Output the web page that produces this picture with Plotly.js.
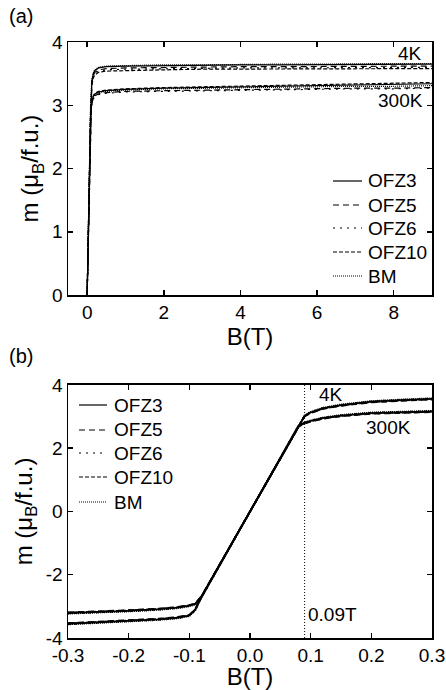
<!DOCTYPE html>
<html>
<head>
<meta charset="utf-8">
<script src="https://cdn.plot.ly/plotly-3.0.1.min.js"></script>
<style>html,body{margin:0;padding:0;background:#fff;}#chart{width:446px;height:690px;}</style>
</head>
<body>
<div id="chart"></div>
<script>
// ---- Panel (a): M(B) up to 9 T ----
const samples = ['OFZ3', 'OFZ5', 'OFZ6', 'OFZ10', 'BM'];
const Btop = [0, 0.03, 0.06, 0.09, 0.12, 0.16, 0.2, 0.3, 0.5, 1, 2, 3, 4, 5, 6, 7, 8, 9];

const OFZ3_4K_a  = [0, 1.00, 2.02, 3.02, 3.38, 3.50, 3.55, 3.59, 3.61, 3.62, 3.63, 3.63, 3.64, 3.64, 3.64, 3.64, 3.65, 3.65];
const OFZ5_4K_a  = [0, 0.99, 2.00, 3.00, 3.35, 3.47, 3.52, 3.56, 3.58, 3.59, 3.60, 3.60, 3.61, 3.61, 3.61, 3.62, 3.62, 3.62];
const OFZ6_4K_a  = [0, 0.98, 1.98, 2.98, 3.33, 3.45, 3.50, 3.54, 3.56, 3.57, 3.58, 3.58, 3.59, 3.59, 3.59, 3.59, 3.60, 3.60];
const OFZ10_4K_a = [0, 0.98, 1.97, 2.97, 3.31, 3.43, 3.48, 3.52, 3.54, 3.55, 3.56, 3.57, 3.57, 3.57, 3.58, 3.58, 3.58, 3.58];
const BM_4K_a    = [0, 1.01, 2.03, 3.03, 3.39, 3.51, 3.56, 3.60, 3.62, 3.63, 3.64, 3.64, 3.65, 3.65, 3.65, 3.66, 3.66, 3.66];

const OFZ3_300K_a  = [0, 1.00, 2.00, 2.85, 3.05, 3.14, 3.18, 3.21, 3.23, 3.25, 3.27, 3.28, 3.29, 3.30, 3.31, 3.32, 3.33, 3.34];
const OFZ5_300K_a  = [0, 0.99, 1.98, 2.83, 3.02, 3.11, 3.15, 3.18, 3.20, 3.22, 3.23, 3.24, 3.25, 3.26, 3.26, 3.27, 3.27, 3.28];
const OFZ6_300K_a  = [0, 0.99, 1.98, 2.82, 3.01, 3.10, 3.14, 3.17, 3.19, 3.21, 3.22, 3.23, 3.24, 3.25, 3.25, 3.26, 3.26, 3.27];
const OFZ10_300K_a = [0, 1.00, 2.01, 2.86, 3.06, 3.15, 3.19, 3.22, 3.24, 3.26, 3.28, 3.29, 3.31, 3.32, 3.33, 3.34, 3.35, 3.36];
const BM_300K_a    = [0, 1.00, 2.00, 2.84, 3.04, 3.13, 3.17, 3.20, 3.22, 3.24, 3.26, 3.27, 3.28, 3.29, 3.29, 3.30, 3.30, 3.31];

// ---- Panel (b): low-field region ----
const Bbot = [-0.3, -0.25, -0.2, -0.15, -0.12, -0.1, -0.09, -0.08, -0.04, 0, 0.04, 0.08, 0.09, 0.1, 0.12, 0.15, 0.2, 0.25, 0.3];

const OFZ3_4K_b  = [-3.55, -3.51, -3.47, -3.41, -3.36, -3.29, -3.10, -2.70, -1.35, 0, 1.35, 2.70, 3.02, 3.13, 3.26, 3.36, 3.47, 3.52, 3.56];
const OFZ5_4K_b  = [-3.53, -3.49, -3.45, -3.39, -3.34, -3.27, -3.08, -2.68, -1.34, 0, 1.34, 2.68, 3.00, 3.11, 3.24, 3.34, 3.45, 3.50, 3.54];
const OFZ6_4K_b  = [-3.56, -3.52, -3.48, -3.42, -3.37, -3.30, -3.11, -2.71, -1.36, 0, 1.36, 2.71, 3.03, 3.14, 3.27, 3.37, 3.48, 3.53, 3.57];
const OFZ10_4K_b = [-3.54, -3.50, -3.46, -3.40, -3.35, -3.28, -3.09, -2.69, -1.35, 0, 1.35, 2.69, 3.01, 3.12, 3.25, 3.35, 3.46, 3.51, 3.55];
const BM_4K_b    = [-3.57, -3.53, -3.49, -3.43, -3.38, -3.31, -3.12, -2.72, -1.37, 0, 1.37, 2.72, 3.04, 3.15, 3.28, 3.38, 3.49, 3.54, 3.58];

const OFZ3_300K_b  = [-3.21, -3.18, -3.14, -3.09, -3.04, -2.98, -2.92, -2.70, -1.35, 0, 1.35, 2.70, 2.80, 2.86, 2.95, 3.03, 3.11, 3.14, 3.16];
const OFZ5_300K_b  = [-3.19, -3.16, -3.12, -3.07, -3.02, -2.96, -2.90, -2.68, -1.34, 0, 1.34, 2.68, 2.78, 2.84, 2.93, 3.01, 3.09, 3.12, 3.14];
const OFZ6_300K_b  = [-3.22, -3.19, -3.15, -3.10, -3.05, -2.99, -2.93, -2.71, -1.36, 0, 1.36, 2.71, 2.81, 2.87, 2.96, 3.04, 3.12, 3.15, 3.17];
const OFZ10_300K_b = [-3.20, -3.17, -3.13, -3.08, -3.03, -2.97, -2.91, -2.69, -1.35, 0, 1.35, 2.69, 2.79, 2.85, 2.94, 3.02, 3.10, 3.13, 3.15];
const BM_300K_b    = [-3.23, -3.20, -3.16, -3.11, -3.06, -3.00, -2.94, -2.72, -1.37, 0, 1.37, 2.72, 2.82, 2.88, 2.97, 3.05, 3.13, 3.16, 3.18];

const xTickVals_b = [-0.3, -0.2, -0.1, 0, 0.1, 0.2, 0.3];
const xTickText_b = ['-0.3', '-0.2', '-0.1', '0.0', '0.1', '0.2', '0.3'];
const yTickVals_b = [-4, -2, 0, 2, 4];
const yTickText_b = ['-4', '-2', '0', '2', '4'];
const markerField = 0.09;

const dashes = ['solid', '6px,4px', '2px,5px', '4px,2px', '1px,1px'];
const topSets = [[OFZ3_4K_a, OFZ3_300K_a], [OFZ5_4K_a, OFZ5_300K_a], [OFZ6_4K_a, OFZ6_300K_a], [OFZ10_4K_a, OFZ10_300K_a], [BM_4K_a, BM_300K_a]];
const botSets = [[OFZ3_4K_b, OFZ3_300K_b], [OFZ5_4K_b, OFZ5_300K_b], [OFZ6_4K_b, OFZ6_300K_b], [OFZ10_4K_b, OFZ10_300K_b], [BM_4K_b, BM_300K_b]];

const traces = [];
samples.forEach((name, i) => {
  topSets[i].forEach((ys, j) => {
    traces.push({x: Btop, y: ys, type: 'scatter', mode: 'lines', name: name,
      xaxis: 'x', yaxis: 'y', showlegend: false,
      line: {color: '#000', width: 1.2, dash: dashes[i]}});
  });
});
samples.forEach((name, i) => {
  botSets[i].forEach((ys, j) => {
    traces.push({x: Bbot, y: ys, type: 'scatter', mode: 'lines', name: name,
      xaxis: 'x2', yaxis: 'y2', showlegend: false,
      line: {color: '#000', width: 1.8, dash: dashes[i]}});
  });
});

const W = 446, H = 690, ML = 68, MR = 14, MT = 42, MB = 52;
const PW = W - ML - MR, PH = H - MT - MB;
const px = v => (v - ML) / PW;
const py = v => 1 - (v - MT) / PH;

const FONT = 'Liberation Sans, Arial, sans-serif';
const axBase = {
  showline: true, linecolor: '#000', linewidth: 1.5, mirror: 'ticks',
  ticks: 'inside', ticklen: 5, tickwidth: 1.5, tickcolor: '#000',
  showgrid: false, zeroline: false,
  tickfont: {family: FONT, size: 19, color: '#000'}
};
const titleFont = {family: FONT, size: 24, color: '#000'};
const annFont = {family: FONT, size: 19, color: '#000'};

// manual legends (pixel placement of the legend blocks)
const legendBlocks = [
  {rows: [181, 205, 228, 252, 276], x0: 333, x1: 362, xt: 366},
  {rows: [405, 430, 453, 477, 502], x0: 79, x1: 107, xt: 112}
];
const shapes = [{type: 'line', xref: 'x2', yref: 'y2', x0: markerField, x1: markerField, y0: -4, y1: 4,
  line: {color: '#000', width: 1, dash: '1px,2px'}}];
const annotations = [
  {text: '(a)', xref: 'paper', yref: 'paper', x: px(7), y: py(16), xanchor: 'left', yanchor: 'middle', showarrow: false, font: {family: FONT, size: 20, color: '#000'}},
  {text: '(b)', xref: 'paper', yref: 'paper', x: px(7), y: py(356), xanchor: 'left', yanchor: 'middle', showarrow: false, font: {family: FONT, size: 20, color: '#000'}},
  {text: '4K', xref: 'x', yref: 'y', x: 8.43, y: 3.82, showarrow: false, font: annFont},
  {text: '300K', xref: 'x', yref: 'y', x: 8.19, y: 3.08, showarrow: false, font: annFont},
  {text: '4K', xref: 'x2', yref: 'y2', x: 0.134, y: 3.69, showarrow: false, font: annFont},
  {text: '300K', xref: 'x2', yref: 'y2', x: 0.228, y: 2.64, showarrow: false, font: annFont},
  {text: '0.09T', xref: 'x2', yref: 'y2', x: 0.136, y: -3.27, showarrow: false, font: annFont}
];
legendBlocks.forEach(b => {
  samples.forEach((name, i) => {
    shapes.push({type: 'line', xref: 'paper', yref: 'paper', x0: px(b.x0), x1: px(b.x1), y0: py(b.rows[i]), y1: py(b.rows[i]),
      line: {color: '#000', width: 1.2, dash: dashes[i]}});
    annotations.push({text: name, xref: 'paper', yref: 'paper', x: px(b.xt), y: py(b.rows[i]), xanchor: 'left', yanchor: 'middle',
      showarrow: false, font: annFont});
  });
});

const layout = {
  width: W, height: H,
  margin: {l: ML, r: MR, t: MT, b: MB},
  paper_bgcolor: '#fff', plot_bgcolor: '#fff',
  showlegend: false,
  xaxis: Object.assign({}, axBase, {domain: [0, 1], range: [-0.5, 9], dtick: 2, tick0: 0, anchor: 'y',
    title: {text: 'B(T)', font: titleFont, standoff: 0}}),
  yaxis: Object.assign({}, axBase, {domain: [0.5754, 1], range: [0, 4], dtick: 1, anchor: 'x',
    title: {text: 'm (μ<sub>B</sub>/f.u.)', font: titleFont, standoff: 6}}),
  xaxis2: Object.assign({}, axBase, {domain: [0, 1], range: [-0.3, 0.3], tickvals: xTickVals_b, ticktext: xTickText_b, anchor: 'y2',
    title: {text: 'B(T)', font: titleFont, standoff: 0}}),
  yaxis2: Object.assign({}, axBase, {domain: [0, 0.4246], range: [-4, 4], tickvals: yTickVals_b, ticktext: yTickText_b, anchor: 'x2',
    title: {text: 'm (μ<sub>B</sub>/f.u.)', font: titleFont, standoff: 6}}),
  shapes: shapes,
  annotations: annotations
};

Plotly.newPlot('chart', traces, layout, {displayModeBar: false, staticPlot: true});
</script>
</body>
</html>
